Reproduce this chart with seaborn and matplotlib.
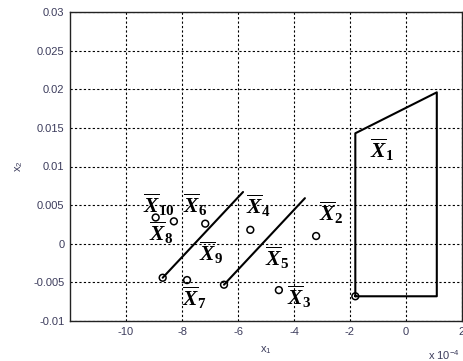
import matplotlib
matplotlib.use("Agg")
import matplotlib.pyplot as plt
import seaborn as sns
import pandas as pd

# ---- data (x in units of 1e-4) ----
poly_x = [-1.81, -1.81, 1.10, 1.10, -1.81]
poly_y = [-0.0068, 0.0143, 0.0196, -0.0068, -0.0068]

line1_x = [-8.69, -5.82]
line1_y = [-0.0044, 0.0067]
line2_x = [-6.50, -3.61]
line2_y = [-0.0053, 0.0059]

pts_x = [-1.81, -8.69, -6.50, -8.94, -8.29, -7.17, -7.82, -5.56, -3.21, -4.54]
pts_y = [-0.0068, -0.0044, -0.0053, 0.0034, 0.0029, 0.0026, -0.0047, 0.0018, 0.0010, -0.0060]

label_names = ["1", "2", "3", "4", "5", "6", "7", "8", "9", "10"]
label_x = [-1.29, -3.10, -4.24, -5.73, -5.04, -7.98, -7.99, -9.17, -7.40, -9.39]
label_y = [0.0121, 0.0040, -0.0069, 0.0049, -0.0018, 0.0050, -0.0070, 0.0014, -0.0012, 0.0050]

xticks = [-10, -8, -6, -4, -2, 0, 2]
yticks = [-0.01, -0.005, 0, 0.005, 0.01, 0.015, 0.02, 0.025, 0.03]
ytick_labels = ["-0.01", "-0.005", "0", "0.005", "0.01", "0.015", "0.02", "0.025", "0.03"]

sns.set_style("white")
plt.rcParams["font.family"] = ["Liberation Sans", "DejaVu Sans"]
plt.rcParams["mathtext.fontset"] = "custom"
plt.rcParams["mathtext.it"] = "Liberation Serif:bold:italic"
plt.rcParams["mathtext.rm"] = "Liberation Serif:bold"
plt.rcParams["mathtext.bf"] = "Liberation Serif:bold"
plt.rcParams["mathtext.sf"] = "Liberation Sans"

fig = plt.figure(figsize=(4.64, 3.61), dpi=100)
ax = fig.add_axes([70 / 464, 40 / 361, 392 / 464, 309 / 361])

tick_color = "#3c3c5c"

ax.set_xlim(-12, 2)
ax.set_ylim(-0.01, 0.03)
ax.set_xticks(xticks)
ax.set_xticklabels([str(t) for t in xticks])
ax.set_yticks(yticks)
ax.set_yticklabels(ytick_labels)
ax.grid(True, color="black", linestyle=(0, (2, 2)), linewidth=0.8)
ax.tick_params(direction="in", length=3, labelsize=8, colors="black",
               labelcolor=tick_color, pad=4)
for s in ax.spines.values():
    s.set_color("#222222")
    s.set_linewidth(1.0)

sns.lineplot(x=poly_x, y=poly_y, sort=False, estimator=None, color="black",
             linewidth=1.5, ax=ax)
sns.lineplot(x=line1_x, y=line1_y, sort=False, estimator=None, color="black",
             linewidth=1.5, ax=ax)
sns.lineplot(x=line2_x, y=line2_y, sort=False, estimator=None, color="black",
             linewidth=1.5, ax=ax)
sns.scatterplot(x=pts_x, y=pts_y, marker="o", s=24, facecolor="none",
                edgecolor="black", linewidth=1.1, ax=ax, zorder=5)

for n, lx, ly in zip(label_names, label_x, label_y):
    ax.text(lx, ly, r"$\overline{X}_{%s}$" % n, fontsize=15.5, ha="left", va="center",
            color="black")

ax.set_xlabel(r"x$_\mathsf{1}$", fontsize=8, color=tick_color, labelpad=6)
ax.set_ylabel(r"x$_\mathsf{2}$", fontsize=8, color=tick_color, labelpad=6)

fig.text(428 / 464, 1 - 355 / 361, r"x 10$^\mathsf{-4}$", fontsize=8, color=tick_color,
         ha="left", va="center")

fig.savefig("out.png", dpi=100)
